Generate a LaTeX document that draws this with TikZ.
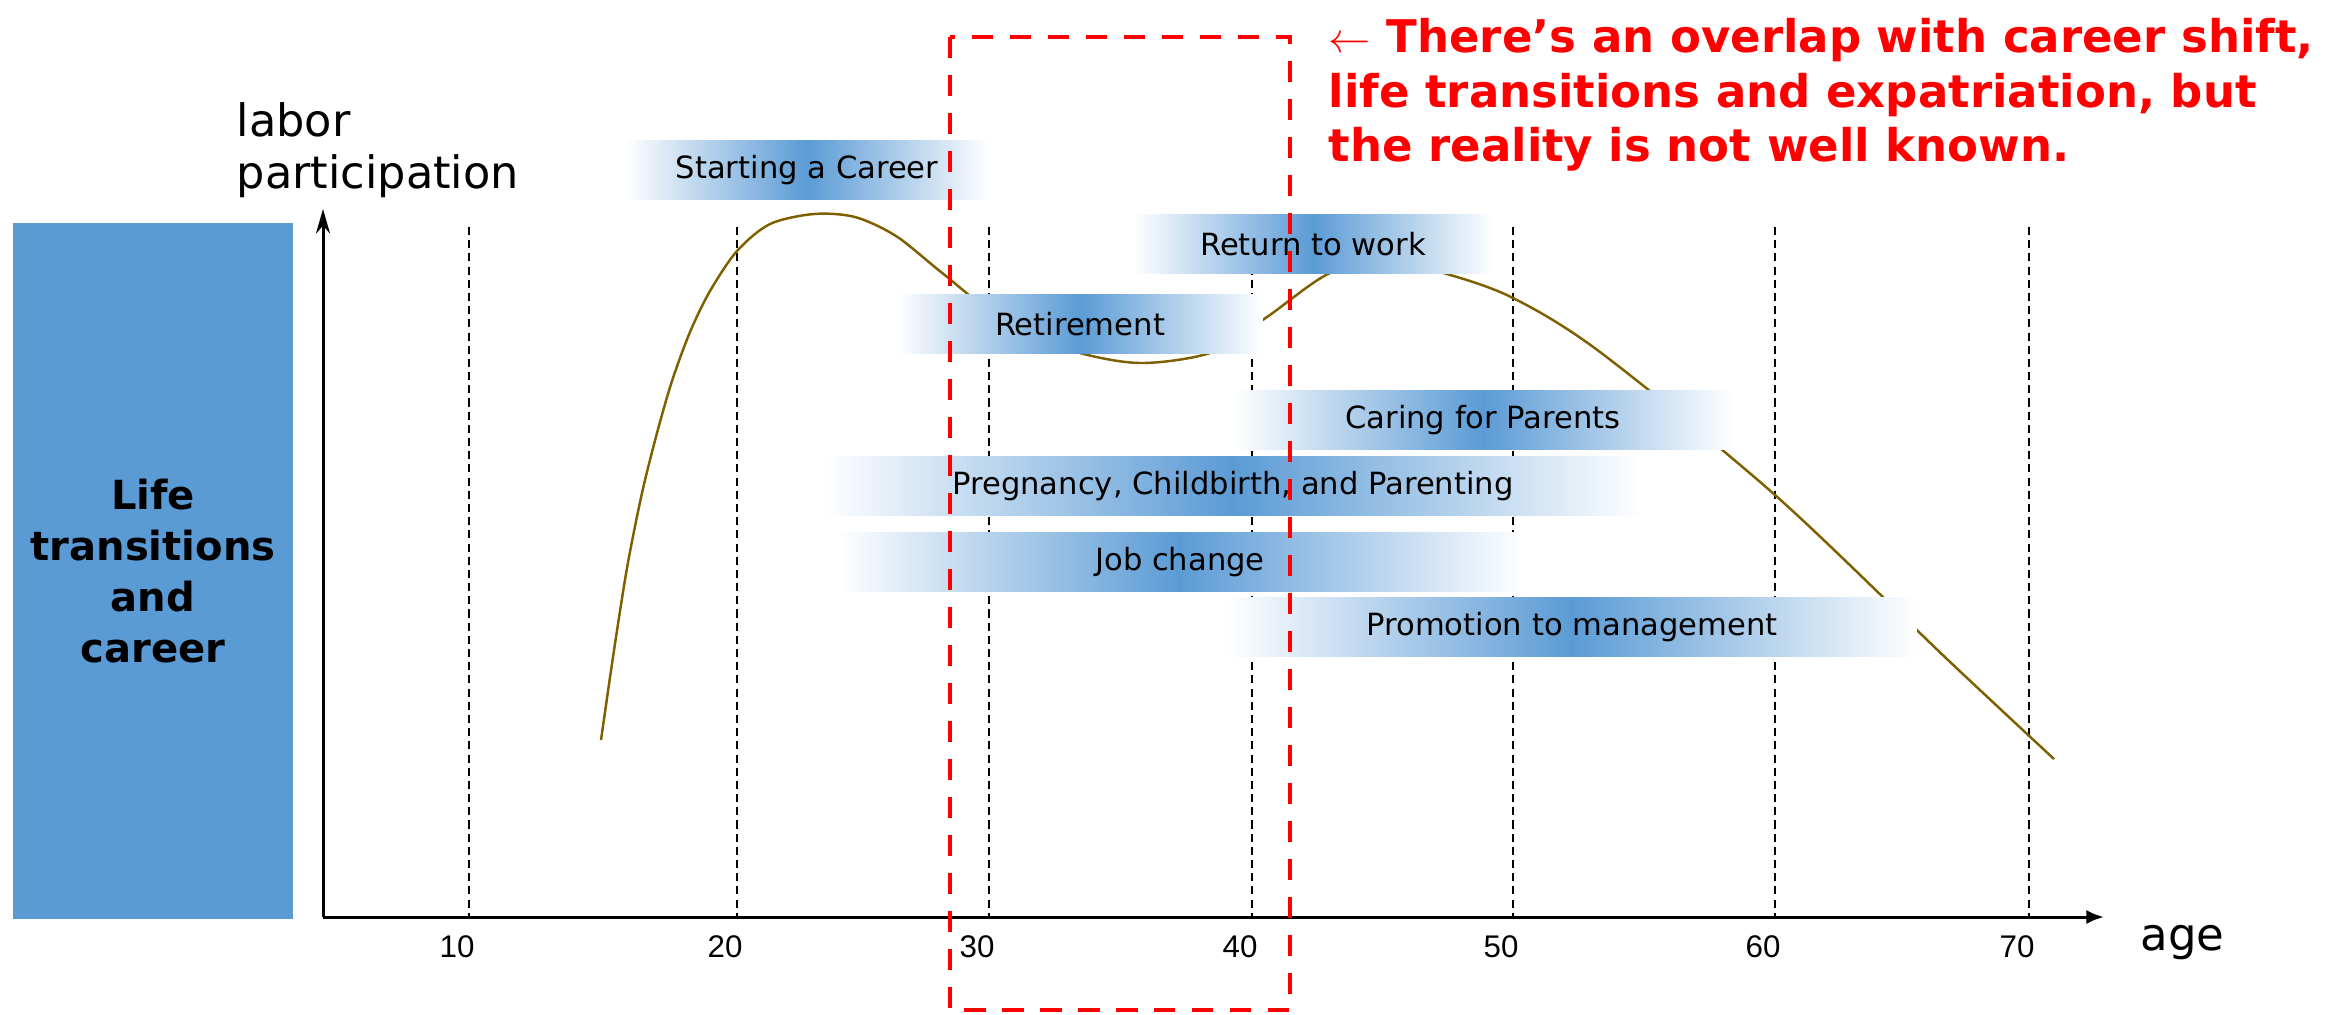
\documentclass[tikz,border=0pt]{standalone}
\usepackage{fontspec}
\setmainfont{DejaVu Sans}
\newfontfamily\tickfont{Liberation Sans}
\usetikzlibrary{arrows.meta,positioning}

\definecolor{boxblue}{RGB}{91,155,213}
\definecolor{curvebrown}{RGB}{127,96,0}

\tikzset{
  bar/.style={minimum height=0.59cm, inner sep=0pt, left color=white, right color=white, middle color=boxblue, font=\fontsize{8.7}{10}\selectfont},
  agegrid/.style={black, line width=0.45pt, dash pattern=on 2.3pt off 1.45pt},
  overlap/.style={red, line width=1.4pt, dash pattern=on 6pt off 4.8pt},
  axis/.style={black, line width=0.85pt},
}

\begin{document}
\begin{tikzpicture}[x=0.01cm, y=-0.01cm]
\useasboundingbox (0,0) rectangle (2343,1014);

\node[fill=boxblue, minimum width=2.8cm, minimum height=6.96cm, align=center, font=\fontsize{11.4}{14.5}\selectfont\bfseries] (lifebox) at (153,571) {Life\\transitions\\and\\career};
\node[anchor=north, font=\fontsize{12}{14}\selectfont] (pagenum) at (110,1008) {2};

\coordinate (O) at (323,917);
\coordinate (ytop) at (323,209);
\coordinate (xend) at (2104,917);

\foreach \a/\x in {10/469,20/737,30/989,40/1252,50/1513,60/1775,70/2029} {
  \draw[agegrid] (\x,227) -- (\x,917);
  \node[font=\tickfont\fontsize{8.9}{10}\selectfont] (tick\a) at (\x-12,947) {\a};
}

\draw[curvebrown, line width=0.7pt] plot[smooth, tension=0.5] coordinates {(601,740) (613,657) (627,568) (642,493) (657,433) (672,381) (690,332) (710,291) (737,251) (770,224) (814,214) (855,217) (896,236) (941,272) (1000,318) (1070,350) (1140,363) (1213,352) (1267,317) (1330,273) (1390,262) (1440,272) (1511,297) (1600,352) (1775,495) (1948,660) (2054,759)};

\node[bar, minimum width=3.64cm] (career) at (807,170) {Starting a Career};
\node[bar, minimum width=3.6cm] (comeback) at (1313,244) {Return to work};
\node[bar, minimum width=3.65cm] (retire) at (1080,324) {Retirement};
\node[bar, minimum width=5.0cm] (care) at (1483,420) {Caring for Parents};
\node[bar, minimum width=8.2cm] (parenting) at (1233,486) {Pregnancy, Childbirth, and Parenting};
\node[bar, minimum width=6.85cm] (jobchange) at (1180,562) {Job change};
\node[bar, minimum width=6.89cm] (promotion) at (1572,627) {Promotion to management};

\draw[axis, -{Stealth[length=7pt, width=4pt]}] (O) -- (ytop);
\draw[axis, -{Latex[length=5pt, width=4pt]}] (O) -- (xend);

\node[anchor=north west, align=left, inner sep=0pt, font=\fontsize{12.7}{14.8}\selectfont] (ylabel) at (236,102) {labor\\participation};
\node[anchor=base west, inner sep=0pt, font=\fontsize{12.8}{15}\selectfont] (xlabel) at (2140,950) {age};

\coordinate (olapNW) at (950,37);
\coordinate (olapSE) at (1290,1010);
\draw[overlap] (olapNW) rectangle (olapSE);

\node[anchor=north west, align=left, inner sep=0pt, text=red, font=\fontsize{12.8}{15.5}\selectfont\bfseries] (note) at (1328,18) {$\leftarrow$ There’s an overlap with career shift,\\life transitions and expatriation, but\\the reality is not well known.};
\end{tikzpicture}
\end{document}
